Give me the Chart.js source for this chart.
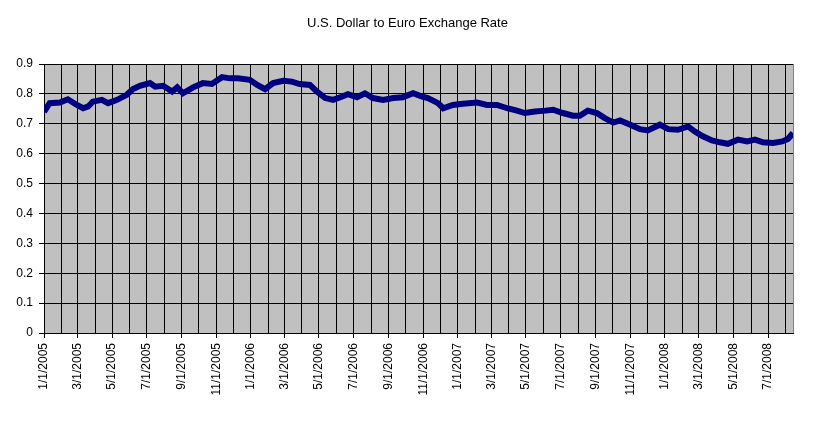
<!DOCTYPE html>
<html>
<head>
<meta charset="utf-8">
<script src="https://cdn.jsdelivr.net/npm/chart.js@4/dist/chart.umd.min.js"></script>
<style>
  html, body { margin: 0; padding: 0; background: #fff; }
  #wrap { width: 817px; height: 423px; }
</style>
</head>
<body>
<div id="wrap"><canvas id="myChart"></canvas></div>
<script>
// readings (M/D/YYYY, USD -> EUR)
const dates = [
  "1/1/2005", "1/11/2005", "1/29/2005", "2/12/2005", "2/28/2005", "3/11/2005", "3/20/2005", "3/28/2005",
  "4/13/2005", "4/24/2005", "5/10/2005", "5/27/2005", "6/7/2005", "6/19/2005", "7/7/2005", "7/16/2005",
  "7/30/2005", "8/15/2005", "8/24/2005", "9/3/2005", "9/21/2005", "10/8/2005", "10/24/2005", "11/11/2005",
  "11/25/2005", "12/9/2005", "12/30/2005", "1/12/2006", "1/26/2006", "2/9/2006", "2/27/2006", "3/14/2006",
  "3/28/2006", "4/15/2006", "4/27/2006", "5/12/2006", "5/26/2006", "6/11/2006", "6/21/2006", "7/7/2006",
  "7/21/2006", "8/4/2006", "8/22/2006", "9/9/2006", "9/26/2006", "10/14/2006", "10/30/2006", "11/9/2006",
  "11/27/2006", "12/6/2006", "12/23/2006", "1/10/2007", "2/4/2007", "2/21/2007", "3/11/2007", "3/29/2007",
  "4/15/2007", "4/29/2007", "5/17/2007", "6/4/2007", "6/18/2007", "7/5/2007", "7/23/2007", "8/4/2007",
  "8/18/2007", "9/3/2007", "9/17/2007", "10/2/2007", "10/14/2007", "11/1/2007", "11/18/2007", "12/2/2007",
  "12/23/2007", "1/7/2008", "1/24/2008", "2/11/2008", "2/23/2008", "3/8/2008", "3/24/2008", "4/7/2008",
  "4/21/2008", "5/9/2008", "5/25/2008", "6/8/2008", "6/22/2008", "7/10/2008", "7/26/2008", "8/5/2008",
  "8/14/2008"
];
const rates = [
  0.740, 0.769, 0.771, 0.782, 0.763, 0.752, 0.758, 0.774,
  0.780, 0.769, 0.780, 0.797, 0.816, 0.827, 0.836, 0.824,
  0.827, 0.808, 0.822, 0.802, 0.822, 0.836, 0.833, 0.856,
  0.852, 0.852, 0.847, 0.830, 0.816, 0.836, 0.844, 0.841,
  0.833, 0.830, 0.808, 0.786, 0.780, 0.791, 0.799, 0.789,
  0.802, 0.786, 0.780, 0.786, 0.789, 0.802, 0.791, 0.786,
  0.769, 0.752, 0.763, 0.767, 0.771, 0.763, 0.763, 0.752,
  0.744, 0.736, 0.741, 0.744, 0.747, 0.736, 0.727, 0.727,
  0.744, 0.736, 0.719, 0.704, 0.711, 0.697, 0.682, 0.678,
  0.697, 0.682, 0.680, 0.691, 0.674, 0.658, 0.644, 0.638,
  0.633, 0.647, 0.641, 0.647, 0.638, 0.636, 0.641, 0.649,
  0.669
];
const yTicks = [0, 0.1, 0.2, 0.3, 0.4, 0.5, 0.6, 0.7, 0.8, 0.9];
const title = "U.S. Dollar to Euro Exchange Rate";

const DAY = 86400000;
const start = Date.UTC(2005, 0, 1);
const toDay = (s) => {
  const [m, d, y] = s.split("/").map(Number);
  return Math.round((Date.UTC(y, m - 1, d) - start) / DAY);
};
const days = dates.map(toDay);
const lastDay = days[days.length - 1];

// month starts for grid lines, labels on every other one
let monthTicks = [];
for (let i = 0; ; i++) {
  const v = Math.round((Date.UTC(2005, i, 1) - start) / DAY);
  if (v > lastDay) break;
  const dt = new Date(Date.UTC(2005, i, 1));
  monthTicks.push({
    value: v,
    label: i % 2 === 0 ? (dt.getUTCMonth() + 1) + "/1/" + dt.getUTCFullYear() : "",
  });
}

// gray plot area, right border and the title (centred on the whole picture)
const plotBg = {
  id: "plotBg",
  beforeDraw(chart) {
    const { ctx, chartArea: a } = chart;
    ctx.save();
    ctx.fillStyle = "#c0c0c0";
    ctx.fillRect(a.left, a.top, a.right - a.left, a.bottom - a.top);
    ctx.restore();
  },
  afterDraw(chart) {
    const { ctx, chartArea: a } = chart;
    ctx.save();
    ctx.strokeStyle = "#808080";
    ctx.lineWidth = 1;
    ctx.beginPath();
    ctx.moveTo(a.right + 0.5, a.top);
    ctx.lineTo(a.right + 0.5, a.bottom);
    ctx.stroke();
    ctx.fillStyle = "#000";
    ctx.font = "13px 'Liberation Sans', Arial, sans-serif";
    ctx.textAlign = "center";
    ctx.textBaseline = "middle";
    ctx.fillText(title, (a.left + a.right) / 2 - 11, 23);
    ctx.restore();
  },
};

Chart.defaults.font.family = "'Liberation Sans', Arial, sans-serif";
Chart.defaults.font.size = 12;
Chart.defaults.color = "#000";

const ctx = document.querySelector("#myChart").getContext("2d");

new Chart(ctx, {
  type: "line",
  data: {
    datasets: [
      {
        data: days.map((d, i) => ({ x: d, y: rates[i] })),
        borderColor: "#000080",
        backgroundColor: "#000080",
        borderWidth: 6,
        pointRadius: 0,
        tension: 0,
      },
    ],
  },
  options: {
    responsive: true,
    maintainAspectRatio: false,
    animation: false,
    layout: { padding: { top: 64, right: 24, bottom: 0, left: 0 } },
    scales: {
      x: {
        type: "linear",
        min: 0,
        max: lastDay,
        afterBuildTicks: (scale) => {
          scale.ticks = monthTicks.map((t) => ({ value: t.value }));
        },
        afterFit: (scale) => {
          scale.height = 90;
        },
        ticks: {
          autoSkip: false,
          minRotation: 90,
          maxRotation: 90,
          padding: 5,
          font: { size: 12 },
          callback: (value, index) => monthTicks[index] ? monthTicks[index].label : "",
        },
        grid: {
          color: "#000",
          lineWidth: 1,
          drawTicks: true,
          tickLength: 5,
          tickColor: (c) => (c.index % 2 === 0 ? "#000" : "rgba(0,0,0,0)"),
        },
        border: { color: "#000" },
      },
      y: {
        min: 0,
        max: 0.9,
        afterBuildTicks: (scale) => {
          scale.ticks = yTicks.map((v) => ({ value: v }));
        },
        afterFit: (scale) => {
          scale.width = 44;
        },
        ticks: {
          padding: 6,
          font: { size: 12 },
          callback: (value) => String(Math.round(value * 10) / 10),
        },
        grid: {
          color: "#000",
          lineWidth: 1,
          tickLength: 5,
        },
        border: { color: "#000" },
      },
    },
    plugins: {
      legend: { display: false },
      tooltip: { enabled: false },
      title: { display: false },
    },
  },
  plugins: [plotBg],
});
</script>
</body>
</html>
